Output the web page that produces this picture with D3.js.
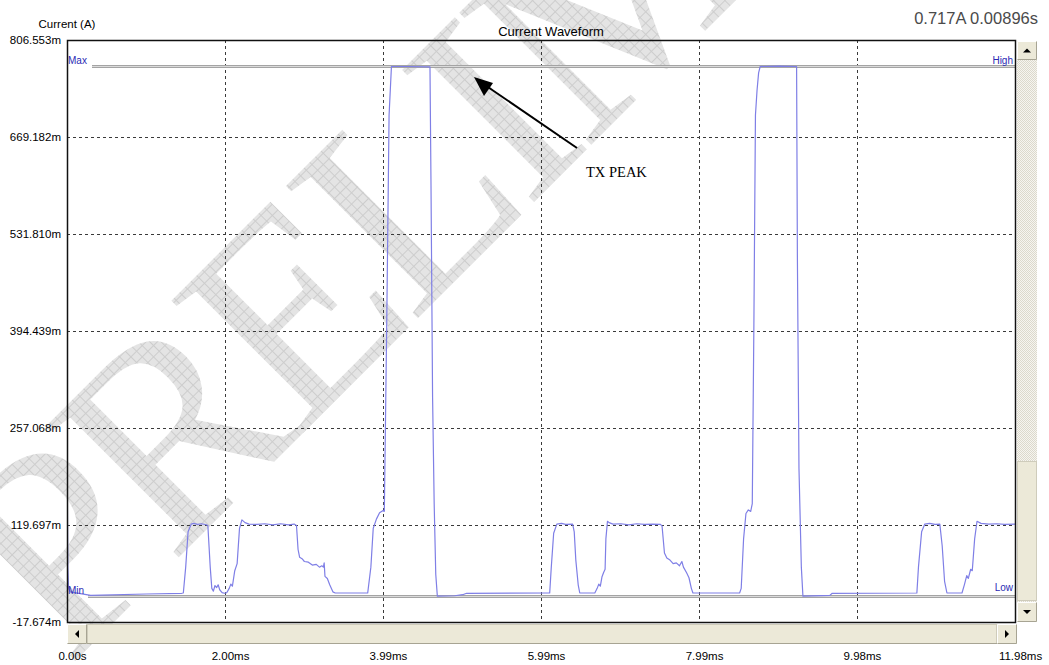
<!DOCTYPE html>
<html>
<head>
<meta charset="utf-8">
<script src="https://cdn.jsdelivr.net/npm/d3@7"></script>
<style>
  body { margin: 0; background: #fff; }
  svg { display: block; }
</style>
</head>
<body>
<script>
// Axis ticks (value in mA / ms) and their printed labels
const yTickValues = [-17.674, 119.697, 257.068, 394.439, 531.810, 669.182, 806.553];
const yTickLabels = ["-17.674m", "119.697m", "257.068m", "394.439m", "531.810m", "669.182m", "806.553m"];
const xTickValues = [0, 1.997, 3.993, 5.990, 7.987, 9.983, 11.98];
const xTickLabels = ["0.00s", "2.00ms", "3.99ms", "5.99ms", "7.99ms", "9.98ms", "11.98ms"];

// Limit markers (mA)
const limitHigh = 769.7;
const limitLow = 19.2;

// Captured current waveform: time (ms) and current (mA)
const timeMs = [
  0, 0.01, 0.02, 0.04, 0.3, 1.0, 1.45,
  1.47, 1.50, 1.53, 1.57, 1.60, 1.65, 1.70, 1.76, 1.78, 1.81, 1.83, 1.85, 1.87, 1.89, 1.91, 1.93, 1.96, 1.99,
  2.02, 2.05, 2.07, 2.09, 2.12, 2.15, 2.18, 2.21, 2.25, 2.30, 2.40, 2.50, 2.60, 2.70, 2.80, 2.87, 2.90, 2.92,
  2.94, 2.97, 3.00, 3.05, 3.10, 3.15, 3.19, 3.22, 3.24, 3.25, 3.26, 3.29, 3.32, 3.36, 3.39,
  3.80, 3.84, 3.87, 3.91, 3.95, 3.99, 4.01, 4.04, 4.07, 4.10, 4.30, 4.587, 4.60, 4.62, 4.64, 4.66, 4.68,
  4.90, 5.00, 5.05,
  6.10, 6.12, 6.15, 6.19, 6.25, 6.30, 6.39, 6.41, 6.43, 6.46, 6.48, 6.67, 6.70, 6.72, 6.74, 6.76, 6.78, 6.80,
  6.81, 6.83, 6.85, 6.90, 7.00, 7.10, 7.20, 7.30, 7.40, 7.50, 7.52, 7.55, 7.58, 7.62, 7.66, 7.70, 7.74, 7.77,
  7.79, 7.83, 7.86, 7.89, 7.91,
  8.50, 8.52, 8.55, 8.58, 8.61, 8.64, 8.66, 8.68, 8.70, 8.72, 8.74, 8.76, 9.00, 9.22, 9.23, 9.25, 9.28, 9.30,
  9.64, 9.67,
  10.74, 10.76, 10.80, 10.84, 10.90, 10.97, 11.03, 11.06, 11.09, 11.12, 11.31, 11.34, 11.37, 11.39, 11.42,
  11.44, 11.47, 11.50, 11.55, 11.65, 11.75, 11.85, 11.98
];
const currentMilliA = [
  240, 60, 30, 25, 20, 22, 23,
  23.4, 60, 110, 121, 122, 120.5, 121.5, 120, 119, 60, 30, 26, 34, 31, 35, 28, 24, 23,
  24, 30, 36, 33, 55, 65, 115, 127, 123, 121, 120.5, 121.5, 120, 121.5, 120, 121, 119, 85,
  74, 72, 68, 67, 63, 64, 60, 62, 60, 66, 47, 44, 35, 25, 23.4,
  23.4, 60, 115, 128, 137, 140, 139, 400, 700, 769, 769, 768.5, 600, 300, 150, 50, 19,
  19.5, 21, 23,
  23.4, 60, 108, 121, 122, 120.5, 121, 110, 70, 35, 23.4, 23.4, 30, 36, 33, 46, 52, 57,
  100, 125, 123, 121, 121.5, 120, 121.5, 120.5, 121, 120.5, 118, 80, 73, 70, 65, 66, 62, 68,
  60, 52, 45, 30, 23.4,
  23.4, 30, 100, 136, 141, 139, 150, 400, 700, 735, 760, 769, 769.5, 769, 500, 200, 60, 19,
  20, 23,
  23.4, 60, 110, 121, 122, 120.5, 121, 90, 40, 23.4, 23.4, 35, 48, 44, 57,
  55, 100, 125, 122, 121, 121.5, 120.5, 121
];

const W = 1049, H = 665;
const plot = { left: 67, right: 1015, top: 40, bottom: 622 };

const svg = d3.select("body").append("svg").attr("width", W).attr("height", H);
const defs = svg.append("defs");

// Checkered fill for the watermark lettering
const pat = defs.append("pattern").attr("id", "check")
  .attr("patternUnits", "userSpaceOnUse").attr("width", 8).attr("height", 8);
pat.append("rect").attr("width", 8).attr("height", 8).attr("fill", "#e4e4e4");
pat.append("path").attr("d", "M0 0.5H8M0.5 0V8").attr("stroke", "#cdcdcd").attr("stroke-width", 1);

// Scrollbar track pattern
const trk = defs.append("pattern").attr("id", "track")
  .attr("patternUnits", "userSpaceOnUse").attr("width", 2).attr("height", 2);
trk.append("rect").attr("width", 2).attr("height", 2).attr("fill", "#f6f5f0");
trk.append("rect").attr("width", 1).attr("height", 1).attr("fill", "#dcd9cc");
trk.append("rect").attr("x", 1).attr("y", 1).attr("width", 1).attr("height", 1).attr("fill", "#dcd9cc");

defs.append("clipPath").attr("id", "plotClip").append("rect")
  .attr("x", plot.left).attr("y", plot.top)
  .attr("width", plot.right - plot.left).attr("height", plot.bottom - plot.top);

// Watermark
svg.append("text")
  .attr("transform", "translate(68,668) rotate(-45)")
  .attr("font-family", "Liberation Serif, serif")
  .attr("font-size", 285)
  .attr("letter-spacing", -12)
  .attr("fill", "url(#check)")
  .text("PRELIMINARY");

const x = d3.scaleLinear().domain([0, 11.98]).range([plot.left, plot.right]);
const y = d3.scaleLinear().domain([-17.674, 806.553]).range([plot.bottom, plot.top]);

// Grid
const grid = svg.append("g").attr("stroke", "#3a3a3a").attr("stroke-width", 1)
  .attr("stroke-dasharray", "3,3");
grid.selectAll(".hg").data(yTickValues.slice(1, -1)).join("line")
  .attr("x1", plot.left).attr("x2", plot.right)
  .attr("y1", d => Math.round(y(d)) + 0.5).attr("y2", d => Math.round(y(d)) + 0.5);
grid.selectAll(".vg").data(xTickValues.slice(1, -1)).join("line")
  .attr("y1", plot.top).attr("y2", plot.bottom)
  .attr("x1", d => Math.round(x(d)) + 0.5).attr("x2", d => Math.round(x(d)) + 0.5);

// Limit lines
function limitLine(v, x0) {
  const yy = Math.round(y(v)) + 0.5;
  svg.append("line").attr("x1", x0).attr("x2", plot.right).attr("y1", yy).attr("y2", yy)
    .attr("stroke", "#a4a4a4").attr("stroke-width", 3);
  svg.append("line").attr("x1", x0).attr("x2", plot.right).attr("y1", yy).attr("y2", yy)
    .attr("stroke", "#dadada").attr("stroke-width", 1);
}
limitLine(limitHigh, 92);
limitLine(limitLow, 88);

// Waveform trace
const pts = timeMs.map((t, i) => [t, currentMilliA[i]]);
svg.append("path").datum(pts)
  .attr("clip-path", "url(#plotClip)")
  .attr("fill", "none").attr("stroke", "#7f7fe6").attr("stroke-width", 1.2)
  .attr("stroke-linejoin", "round")
  .attr("d", d3.line().x(d => x(d[0])).y(d => y(d[1])));

// Limit labels
const limLab = svg.append("g").attr("font-family", "Liberation Sans, Arial, sans-serif")
  .attr("font-size", 10).attr("fill", "#2a2ab4");
limLab.append("text").attr("x", 68).attr("y", y(limitHigh) - 2).text("Max");
limLab.append("text").attr("x", 1013).attr("y", y(limitHigh) - 2).attr("text-anchor", "end").text("High");
limLab.append("text").attr("x", 68).attr("y", y(limitLow) - 2).text("Min");
limLab.append("text").attr("x", 1013).attr("y", y(limitLow) - 5).attr("text-anchor", "end").text("Low");

// Plot frame
svg.append("rect").attr("x", plot.left + 0.5).attr("y", plot.top + 0.5)
  .attr("width", plot.right - plot.left).attr("height", plot.bottom - plot.top)
  .attr("fill", "none").attr("stroke", "#111").attr("stroke-width", 1.5);

// Axes
const yAxis = d3.axisLeft(y).tickValues(yTickValues)
  .tickFormat((d, i) => yTickLabels[i]).tickSize(0).tickPadding(6);
const gy = svg.append("g").attr("transform", `translate(${plot.left},0)`).call(yAxis);
gy.select(".domain").remove();
gy.selectAll("text").attr("font-family", "Liberation Sans, Arial, sans-serif")
  .attr("font-size", 11.5).attr("fill", "#000");

const xAxis = d3.axisBottom(x).tickValues(xTickValues)
  .tickFormat((d, i) => xTickLabels[i]).tickSize(0).tickPadding(30);
const gx = svg.append("g").attr("transform", `translate(0,${plot.bottom})`).call(xAxis);
gx.select(".domain").remove();
gx.selectAll("text").attr("font-family", "Liberation Sans, Arial, sans-serif")
  .attr("font-size", 11.5).attr("fill", "#000").attr("dx", 5);

// Titles
svg.append("text").attr("x", 67).attr("y", 28).attr("text-anchor", "middle")
  .attr("font-family", "Liberation Sans, Arial, sans-serif").attr("font-size", 11.5)
  .text("Current (A)");
svg.append("text").attr("x", 551).attr("y", 36).attr("text-anchor", "middle")
  .attr("font-family", "Liberation Sans, Arial, sans-serif").attr("font-size", 13)
  .text("Current Waveform");

// Cursor readout
svg.append("text").attr("x", 1038).attr("y", 24).attr("text-anchor", "end")
  .attr("font-family", "Liberation Sans, Arial, sans-serif").attr("font-size", 16.5)
  .attr("fill", "#4a4a4a")
  .text("0.717A 0.00896s");

// Annotation
svg.append("line").attr("x1", 577).attr("y1", 148).attr("x2", 482).attr("y2", 83)
  .attr("stroke", "#000").attr("stroke-width", 2);
svg.append("path").attr("d", "M474,77 L493,83 L484,96 Z").attr("fill", "#000");
svg.append("text").attr("x", 586).attr("y", 177)
  .attr("font-family", "Liberation Serif, Times New Roman, serif").attr("font-size", 14.5)
  .text("TX PEAK");

// Scrollbars
function button(gx0, gy0, w, h, dir) {
  const g = svg.append("g");
  g.append("rect").attr("x", gx0).attr("y", gy0).attr("width", w).attr("height", h).attr("fill", "#ece9d8");
  g.append("path").attr("d", `M${gx0 + 0.5},${gy0 + h - 0.5}V${gy0 + 0.5}H${gx0 + w - 0.5}`)
    .attr("fill", "none").attr("stroke", "#fff");
  g.append("path").attr("d", `M${gx0 + 0.5},${gy0 + h - 0.5}H${gx0 + w - 0.5}V${gy0 + 0.5}`)
    .attr("fill", "none").attr("stroke", "#a7a493");
  const cx = gx0 + w / 2, cy = gy0 + h / 2;
  const tri = {
    up: `M${cx - 4},${cy + 2}L${cx + 4},${cy + 2}L${cx},${cy - 2}Z`,
    down: `M${cx - 4},${cy - 2}L${cx + 4},${cy - 2}L${cx},${cy + 2}Z`,
    left: `M${cx + 2},${cy - 4}L${cx + 2},${cy + 4}L${cx - 2},${cy}Z`,
    right: `M${cx - 2},${cy - 4}L${cx - 2},${cy + 4}L${cx + 2},${cy}Z`
  }[dir];
  g.append("path").attr("d", tri).attr("fill", "#000");
}
// vertical
svg.append("rect").attr("x", 1017).attr("y", 41).attr("width", 20).attr("height", 581).attr("fill", "url(#track)");
svg.append("rect").attr("x", 1017.5).attr("y", 461.5).attr("width", 19).attr("height", 139)
  .attr("fill", "#ece9d8").attr("stroke", "#cfccbb");
button(1017, 41, 20, 19, "up");
button(1017, 602, 20, 20, "down");
// horizontal
svg.append("rect").attr("x", 87.5).attr("y", 624.5).attr("width", 909).attr("height", 19)
  .attr("fill", "#ece9d8").attr("stroke", "#cfccbb");
svg.append("line").attr("x1", 87).attr("x2", 997).attr("y1", 643.5).attr("y2", 643.5)
  .attr("stroke", "#a7a493");
button(67, 624, 20, 20, "left");
button(997, 624, 20, 20, "right");
</script>
</body>
</html>
